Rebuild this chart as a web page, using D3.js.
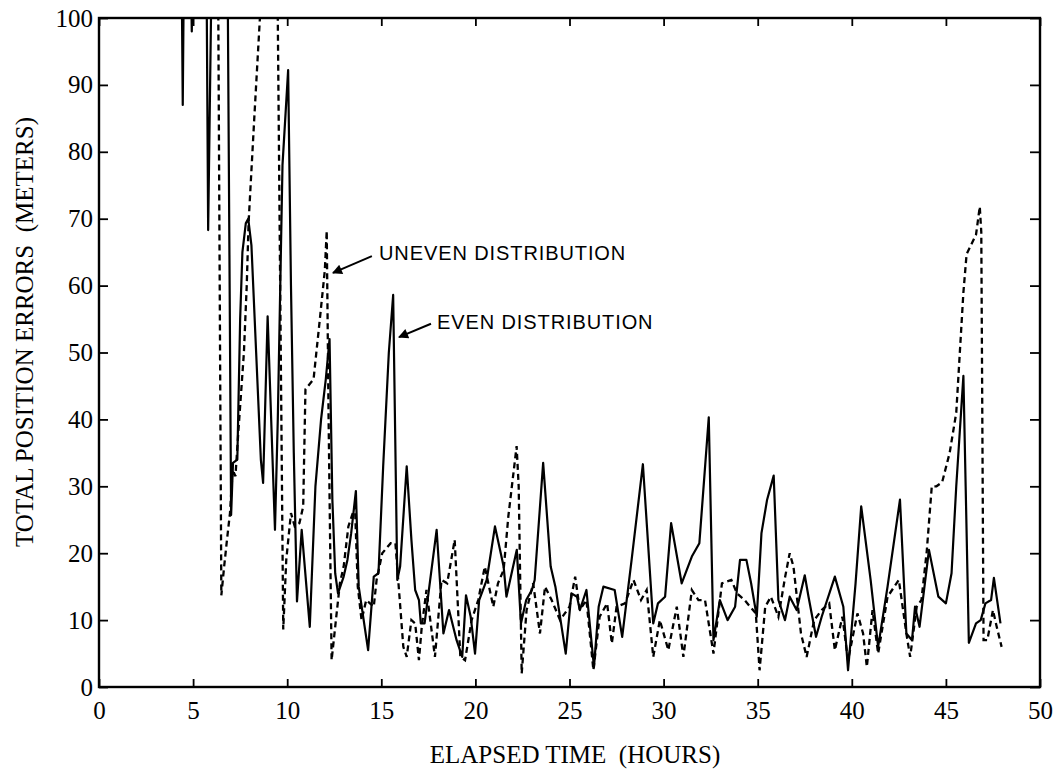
<!DOCTYPE html>
<html>
<head>
<meta charset="utf-8">
<script src="https://d3js.org/d3.v7.min.js"></script>
<style>
  body { margin: 0; background: #fff; }
  .tick text { font-family: "Liberation Serif", "Times New Roman", serif; font-size: 25px; fill: #000; }
  .tick line { stroke: #000; stroke-width: 1.8; }
</style>
</head>
<body>
<div class="chart"></div>
<script>
// total position errors vs elapsed time

// even distribution (solid line): hours and meters
var evenHours = [4.0, 4.40, 4.45, 4.50, 4.90, 4.93, 4.96, 5.72, 5.80, 5.97, 6.84, 7.02, 7.12, 7.35, 7.5, 7.62, 7.8, 7.93, 8.1, 8.35,
  8.6, 8.72, 8.96, 9.35, 9.5, 9.75, 10.05, 10.2, 10.35, 10.52, 10.77, 11.2, 11.5, 11.8, 12.05, 12.25, 12.4, 12.55, 12.7, 13.0,
  13.2, 13.4, 13.65, 13.8, 14.3, 14.6, 14.85, 15.1, 15.4, 15.63, 15.85, 16.0, 16.35, 16.6, 16.8, 17.0, 17.1, 17.3, 17.94, 18.3,
  18.6, 19.0, 19.3, 19.5, 19.75, 19.98, 20.2, 20.6, 21.04, 21.5, 21.65, 22.2, 22.42, 22.7, 23.0, 23.15, 23.6, 24.0, 24.25, 24.8,
  25.1, 25.4, 25.55, 25.9, 26.3, 26.55, 26.8, 27.4, 27.8, 28.3, 28.9, 29.45, 29.7, 30.08, 30.4, 30.96, 31.5, 31.9, 32.4, 32.65,
  32.99, 33.4, 33.8, 34.06, 34.4, 34.65, 34.95, 35.2, 35.5, 35.85, 36.1, 36.45, 36.7, 37.07, 37.5, 37.7, 38.1, 38.4, 39.1, 39.55,
  39.8, 40.2, 40.5, 41.0, 41.4, 41.9, 42.56, 42.9, 43.2, 43.36, 43.6, 44.1, 44.6, 45.0, 45.3, 45.55, 45.93, 46.05, 46.22, 46.6,
  46.85, 47.1, 47.4, 47.55, 47.9];
var evenErrors = [130, 104, 87, 104, 104, 98, 104, 104, 68.3, 104, 104, 25.7, 33.5, 34, 55, 65, 69.3, 70, 66, 50,
  34, 30.5, 55.4, 23.5, 40, 78, 92.2, 60, 35, 12.8, 23.5, 9, 30, 40, 46, 52, 28, 17, 14, 16.5,
  19, 23, 29.3, 15, 5.5, 16.5, 17, 33, 50, 58.6, 16, 18, 33, 22, 14.5, 13, 9.5, 9.5, 23.5, 8,
  11.5, 7, 4.5, 13.7, 10.5, 5, 13, 16, 24, 18, 13.5, 20.5, 9.5, 13, 14.5, 16, 33.5, 18, 15, 5,
  14, 13.5, 11.5, 14.5, 3, 12, 15, 14.5, 7.5, 19, 33.3, 9.5, 12.5, 13.5, 24.5, 15.5, 19.5, 21.5, 40.3, 7,
  13, 10, 12, 19, 19, 15.5, 10.5, 23, 28, 31.6, 13, 10, 13.5, 11.5, 16.7, 13.5, 7.5, 10.5, 16.5, 12,
  2.5, 15.5, 27, 16, 6, 15, 28, 8, 7, 12, 9, 20.5, 13.5, 12.5, 17, 30, 46.5, 30, 6.6, 9.5,
  10, 12.5, 13, 16.3, 9.5];

// uneven distribution (dashed line)
var unevenHours = [4.0, 6.28, 6.34, 6.5, 6.65, 6.8, 6.96, 7.1, 7.25, 7.4, 7.7, 7.85, 7.95, 8.25, 8.55, 8.6, 9.45, 9.5, 9.79, 9.95,
  10.2, 10.4, 10.65, 10.85, 10.97, 11.4, 11.75, 12.0, 12.1, 12.2, 12.36, 12.55, 12.8, 13.0, 13.25, 13.6, 13.75, 13.95, 14.2, 14.6,
  14.75, 15.05, 15.5, 15.75, 16.17, 16.35, 16.6, 16.8, 17.0, 17.15, 17.4, 17.85, 18.2, 18.5, 18.9, 19.2, 19.45, 19.8, 20.15, 20.5,
  20.95, 21.2, 21.5, 21.75, 22.19, 22.3, 22.46, 22.72, 23.07, 23.43, 23.7, 24.05, 24.5, 25.0, 25.3, 25.55, 25.9, 26.27, 26.6, 27.0,
  27.25, 27.5, 27.95, 28.4, 28.8, 29.1, 29.45, 29.8, 30.25, 30.7, 31.05, 31.5, 31.85, 32.2, 32.65, 33.1, 33.6, 33.9, 34.3, 34.9,
  35.1, 35.4, 35.7, 36.1, 36.46, 36.7, 36.9, 37.3, 37.6, 38.0, 38.4, 38.8, 39.1, 39.5, 39.8, 40.3, 40.6, 40.8, 41.1, 41.4,
  41.9, 42.5, 42.9, 43.1, 43.45, 43.7, 43.98, 44.25, 44.5, 44.8, 45.2, 45.55, 45.93, 46.1, 46.6, 46.8, 46.88, 47.0, 47.2, 47.5,
  47.7, 47.96];
var unevenErrors = [130, 130, 100, 13.7, 18, 22, 26, 32.5, 31.5, 38, 50, 60, 69.5, 85, 100, 110, 110, 100, 8.6, 19,
  26, 24, 24.5, 27, 44.5, 46, 55.4, 62.3, 68.2, 40, 4, 9, 15.5, 18, 24, 27, 15, 10, 13, 12,
  16, 20, 21.5, 21.5, 6, 4.5, 10, 9.5, 4, 9, 14.5, 4.5, 16, 15.5, 22, 4.5, 4, 10, 13, 18,
  12, 15.5, 17.5, 25.5, 36, 30, 2, 11.5, 15.5, 8, 15, 13, 10, 12, 16.5, 11.5, 13, 2.5, 10.5, 12.5,
  6.5, 12, 12.5, 16, 13, 14.5, 4.5, 10, 5.5, 12, 4.5, 14.5, 13, 13, 5, 15.5, 16, 14, 13, 11,
  2.5, 12, 13.5, 10.5, 16.5, 20, 18, 8, 4.5, 10, 11.5, 12.5, 5.5, 10.5, 4, 11, 8, 3, 11.5, 5,
  13.5, 16, 8, 4.5, 12, 13, 20.2, 30, 30, 30.6, 35, 41, 59, 64.7, 67.6, 71.8, 68, 7, 7, 11.5,
  9, 6];

var xTicks = [0, 5, 10, 15, 20, 25, 30, 35, 40, 45, 50];
var yTicks = [0, 10, 20, 30, 40, 50, 60, 70, 80, 90, 100];

// labels with arrow tail / tip, in data units
var labelText = ["UNEVEN DISTRIBUTION", "EVEN DISTRIBUTION"];
var labelAt = [[14.88, 63.9], [17.96, 53.5]];
var arrowFrom = [[14.5, 64.4], [17.64, 54.3]];
var arrowTo = [[12.43, 61.9], [15.94, 52.3]];

var W = 1058, H = 771;
var margin = {top: 18, right: 18, bottom: 84, left: 99};
var width = W - margin.left - margin.right;
var height = H - margin.top - margin.bottom;

var xScale = d3.scaleLinear().domain([0, 50]).range([0, width]);
var yScale = d3.scaleLinear().domain([0, 100]).range([height, 0]);

var svg = d3.select(".chart")
    .append("svg")
    .attr("width", W)
    .attr("height", H)
    .attr("style", "background: white")
    .append("g")
    .attr("transform", "translate(" + margin.left + "," + margin.top + ")");

svg.append("defs").append("clipPath")
    .attr("id", "plotclip")
    .append("rect")
    .attr("width", width)
    .attr("height", height);

var arrowDef = svg.select("defs").append("marker")
    .attr("id", "head")
    .attr("viewBox", "0 0 10 10")
    .attr("refX", 9)
    .attr("refY", 5)
    .attr("markerWidth", 14)
    .attr("markerHeight", 10)
    .attr("markerUnits", "userSpaceOnUse")
    .attr("orient", "auto");
arrowDef.append("path").attr("d", "M0,0 L10,5 L0,10 z").attr("fill", "#000");

// axes, ticks pointing inward
var xAxis = d3.axisBottom(xScale).tickValues(xTicks).tickSizeInner(-8).tickSizeOuter(0).tickPadding(14);
var yAxis = d3.axisLeft(yScale).tickValues(yTicks).tickSizeInner(-9).tickSizeOuter(0).tickPadding(6);
var xTop = d3.axisTop(xScale).tickValues(xTicks).tickSizeInner(-8).tickSizeOuter(0).tickFormat("");
var yRight = d3.axisRight(yScale).tickValues(yTicks).tickSizeInner(-10).tickSizeOuter(0).tickFormat("");

svg.append("g").attr("class", "xaxis").attr("transform", "translate(0," + height + ")").call(xAxis);
svg.append("g").attr("class", "yaxis").call(yAxis);
svg.append("g").attr("transform", "translate(0,0)").call(xTop);
svg.append("g").attr("transform", "translate(" + width + ",0)").call(yRight);
svg.selectAll(".domain").remove();

// frame
svg.append("rect")
    .attr("width", width)
    .attr("height", height)
    .attr("fill", "none")
    .attr("stroke", "#000")
    .attr("stroke-width", 2.4);

// series
var evenData = evenHours.map(function(h, i) { return [h, evenErrors[i]]; });
var unevenData = unevenHours.map(function(h, i) { return [h, unevenErrors[i]]; });

var line = d3.line()
    .x(function(d) { return xScale(d[0]); })
    .y(function(d) { return yScale(d[1]); });

var plot = svg.append("g").attr("clip-path", "url(#plotclip)");

plot.append("path")
    .datum(unevenData)
    .attr("d", line)
    .attr("fill", "none")
    .attr("stroke", "#000")
    .attr("stroke-width", 2.3)
    .attr("stroke-dasharray", "6,4");

plot.append("path")
    .datum(evenData)
    .attr("d", line)
    .attr("fill", "none")
    .attr("stroke", "#000")
    .attr("stroke-width", 2.2)
    .attr("stroke-linejoin", "round");

// annotations
labelText.forEach(function(t, i) {
    svg.append("line")
        .attr("x1", xScale(arrowFrom[i][0]))
        .attr("y1", yScale(arrowFrom[i][1]))
        .attr("x2", xScale(arrowTo[i][0]))
        .attr("y2", yScale(arrowTo[i][1]))
        .attr("stroke", "#000")
        .attr("stroke-width", 2)
        .attr("marker-end", "url(#head)");
    svg.append("text")
        .attr("x", xScale(labelAt[i][0]))
        .attr("y", yScale(labelAt[i][1]))
        .attr("style", "font-family: 'Liberation Sans', Arial, sans-serif; font-size: 20px; letter-spacing: 0.9px")
        .text(t);
});

// axis titles
svg.append("text")
    .attr("x", 476)
    .attr("y", height + 76)
    .attr("text-anchor", "middle")
    .attr("style", "font-family: 'Liberation Serif', 'Times New Roman', serif; font-size: 25px; white-space: pre")
    .text("ELAPSED TIME  (HOURS)");

svg.append("text")
    .attr("transform", "rotate(-90)")
    .attr("x", -314)
    .attr("y", -66)
    .attr("text-anchor", "middle")
    .attr("style", "font-family: 'Liberation Serif', 'Times New Roman', serif; font-size: 25px; white-space: pre")
    .text("TOTAL POSITION ERRORS  (METERS)");
</script>
</body>
</html>
